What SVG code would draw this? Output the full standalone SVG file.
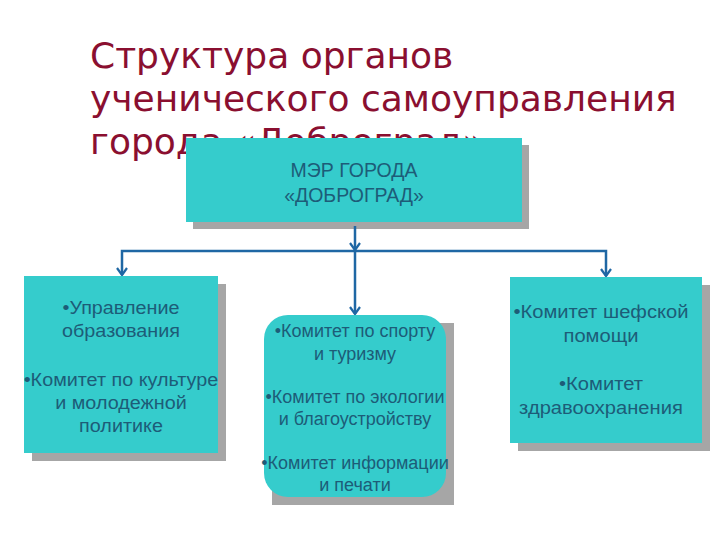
<svg xmlns="http://www.w3.org/2000/svg" width="720" height="540" viewBox="0 0 720 540">
<defs>
<style>
.title{font-family:"DejaVu Sans",sans-serif;font-size:36px;fill:#8a0f30}
.box{fill:#35cccc}
.shadow{fill:#a6a6a6}
.lbl{font-family:"Liberation Sans",Arial,sans-serif;font-size:18.5px;fill:#1d5c78;text-anchor:middle}
.big{font-size:19.5px}
.mid{font-size:18px}
.con{stroke:#1f67a4;stroke-width:2.5;fill:none}
</style>
<marker id="arr" markerWidth="12" markerHeight="12" refX="10" refY="6" orient="auto-start-reverse" markerUnits="userSpaceOnUse" viewBox="0 0 12 12">
<path d="M3,1 L10,6 L3,11" fill="none" stroke="#1f67a4" stroke-width="2.2"/>
</marker>
</defs>
<rect width="720" height="540" fill="#ffffff"/>
<g id="title">
<text class="title" x="90" y="68">Структура органов</text>
<text class="title" x="90" y="111">ученического самоуправления</text>
<text class="title" x="90" y="154">города «Доброград»</text>
</g>
<g id="mayor">
<rect class="shadow" x="193" y="145" width="336" height="84"/>
<rect class="box" x="186" y="138" width="336" height="84"/>
<text class="lbl big" x="354" y="177">МЭР ГОРОДА</text>
<text class="lbl big" x="354" y="202">«ДОБРОГРАД»</text>
</g>
<g id="connectors">
<line class="con" x1="355" y1="226" x2="355" y2="250" marker-end="url(#arr)"/>
<polyline class="con" points="122,275 122,251 606,251 606,276" marker-start="url(#arr)" marker-end="url(#arr)"/>
<line class="con" x1="355" y1="251" x2="355" y2="314" marker-end="url(#arr)"/>
</g>
<g id="left">
<rect class="shadow" x="32" y="284" width="194" height="177"/>
<rect class="box" x="24" y="276" width="194" height="177"/>
<g transform="matrix(1.07,0,0,1,-8.47,0)">
<text class="lbl" x="121" y="314">•Управление</text>
<text class="lbl" x="121" y="337">образования</text>
<text class="lbl" x="121" y="386">•Комитет по культуре</text>
<text class="lbl" x="121" y="409">и молодежной</text>
<text class="lbl" x="121" y="432">политике</text>
</g>
</g>
<g id="middle">
<rect class="shadow" x="272" y="323" width="182" height="182"/>
<rect class="box" x="264" y="315" width="182" height="182" rx="24"/>
<text class="lbl mid" x="355" y="337">•Комитет по спорту</text>
<text class="lbl mid" x="355" y="360">и туризму</text>
<text class="lbl mid" x="355" y="403">•Комитет по экологии</text>
<text class="lbl mid" x="355" y="425">и благоустройству</text>
<text class="lbl mid" x="355" y="469">•Комитет информации</text>
<text class="lbl mid" x="355" y="491">и печати</text>
</g>
<g id="right">
<rect class="shadow" x="518" y="285" width="192" height="166"/>
<rect class="box" x="510" y="277" width="192" height="166"/>
<g transform="matrix(1.09,0,0,1,-54.09,0)">
<text class="lbl" x="601" y="318">•Комитет шефской</text>
<text class="lbl" x="601" y="342">помощи</text>
<text class="lbl" x="601" y="390">•Комитет</text>
<text class="lbl" x="601" y="414">здравоохранения</text>
</g>
</g>
</svg>
